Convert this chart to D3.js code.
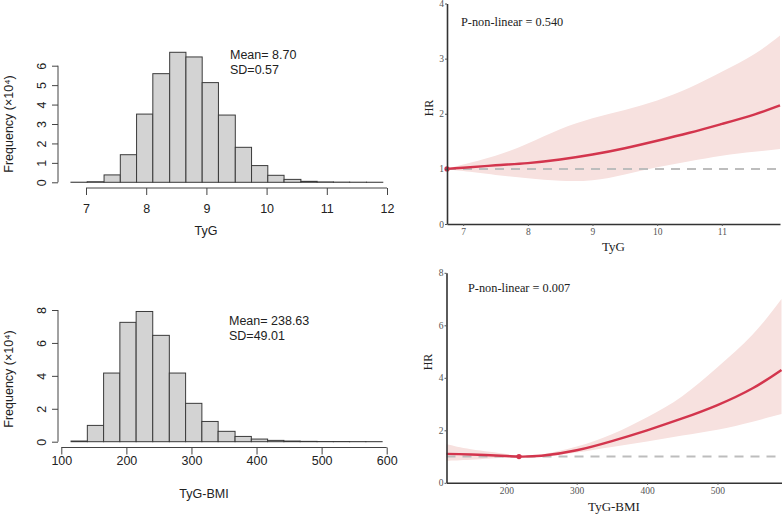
<!DOCTYPE html>
<html>
<head>
<meta charset="utf-8">
<script src="https://cdn.jsdelivr.net/npm/d3@7"></script>
<style>
  html, body { margin: 0; padding: 0; background: #fff; }
  svg { display: block; }
</style>
</head>
<body>
<svg id="chart" width="784" height="515"></svg>
<script>
// ---------- DATA ----------
// Histogram of TyG (frequency ×10^4)
const tygBinEdges = [6.75, 7.02, 7.30, 7.57, 7.84, 8.11, 8.39, 8.66, 8.93, 9.20, 9.48, 9.75, 10.02, 10.29, 10.57, 10.84, 11.11, 11.38, 11.66, 11.93];
const tygCounts = [0.005, 0.03, 0.38, 1.42, 3.51, 5.59, 6.69, 6.45, 5.13, 3.46, 1.80, 0.86, 0.36, 0.15, 0.05, 0.02, 0.01, 0.005, 0.003];
const tygXTicks = [7, 8, 9, 10, 11, 12];
const tygYTicks = [0, 1, 2, 3, 4, 5, 6];
const tygStats = ["Mean= 8.70", "SD=0.57"];

// Histogram of TyG-BMI (frequency ×10^4)
const bmiBinEdges = [115, 140, 165, 190, 215, 240.5, 266, 291, 316, 341, 367, 392, 417, 442, 467, 493, 518, 543, 568, 593];
const bmiCounts = [0.04, 0.99, 4.17, 7.25, 7.91, 6.46, 4.17, 2.33, 1.23, 0.63, 0.32, 0.16, 0.08, 0.04, 0.02, 0.01, 0.01, 0.005, 0.003];
const bmiXTicks = [100, 200, 300, 400, 500, 600];
const bmiYTicks = [0, 2, 4, 6, 8];
const bmiStats = ["Mean= 238.63", "SD=49.01"];

// RCS curve: TyG
const rcsTygX     = [6.75, 7.0, 7.5, 8.0, 8.5, 9.0, 9.5, 10.0, 10.5, 11.0, 11.5, 11.9];
const rcsTygHR    = [1.00, 1.02, 1.065, 1.105, 1.17, 1.26, 1.375, 1.51, 1.655, 1.815, 1.985, 2.15];
const rcsTygLower = [1.00, 0.96, 0.89, 0.83, 0.785, 0.795, 0.90, 1.03, 1.14, 1.24, 1.31, 1.36];
const rcsTygUpper = [1.00, 1.08, 1.24, 1.46, 1.72, 1.92, 2.07, 2.24, 2.47, 2.76, 3.08, 3.42];
const rcsTygXTicks = [7, 8, 9, 10, 11];
const rcsTygYTicks = [0, 1, 2, 3, 4];
const rcsTygRef = 6.75;
const rcsTygP = "P-non-linear = 0.540";

// RCS curve: TyG-BMI
const rcsBmiX     = [115, 150, 200, 218, 250, 300, 350, 400, 450, 500, 550, 591];
const rcsBmiHR    = [1.10, 1.08, 1.02, 1.00, 1.03, 1.24, 1.59, 2.00, 2.45, 2.96, 3.60, 4.30];
const rcsBmiLower = [0.84, 0.88, 0.96, 1.00, 0.99, 1.15, 1.36, 1.57, 1.80, 2.02, 2.33, 2.62];
const rcsBmiUpper = [1.48, 1.28, 1.10, 1.00, 1.08, 1.38, 1.85, 2.50, 3.30, 4.40, 5.65, 7.00];
const rcsBmiXTicks = [200, 300, 400, 500];
const rcsBmiYTicks = [0, 2, 4, 6, 8];
const rcsBmiRef = 218;
const rcsBmiP = "P-non-linear = 0.007";

// ---------- DRAW ----------
const svg = d3.select("#chart");
const sans = "'Liberation Sans', Arial, sans-serif";
const serif = "'Liberation Serif', 'Times New Roman', serif";
const plain = d => String(d);

function histogram(cfg) {
  const x = d3.scaleLinear().domain(cfg.xDomain).range(cfg.xRange);
  const y = d3.scaleLinear().domain(cfg.yDomain).range(cfg.yRange);
  const g = svg.append("g");
  const bins = cfg.counts.map((c, i) => ({ x0: cfg.edges[i], x1: cfg.edges[i + 1], c }));
  g.selectAll("rect.bar").data(bins).enter().append("rect")
    .attr("x", d => x(d.x0))
    .attr("width", d => x(d.x1) - x(d.x0))
    .attr("y", d => y(d.c))
    .attr("height", d => y(0) - y(d.c))
    .attr("fill", "#d3d3d3")
    .attr("stroke", "#3a3a3a")
    .attr("stroke-width", 1);

  // x axis (R style: line between first and last ticks, offset below)
  const xa = g.append("g").attr("transform", `translate(0,${cfg.xAxisY})`)
    .call(d3.axisBottom(x).tickValues(cfg.xTicks).tickFormat(plain).tickSize(7).tickPadding(cfg.xPad).tickSizeOuter(0));
  xa.select(".domain").remove();
  xa.append("line").attr("x1", x(cfg.xTicks[0])).attr("x2", x(cfg.xTicks[cfg.xTicks.length - 1]))
    .attr("stroke", "#444").attr("stroke-width", 1);
  xa.selectAll(".tick line").attr("stroke", "#444");
  xa.selectAll("text").attr("font-family", sans).attr("font-size", 12.5).attr("fill", "#222");

  // y axis
  const ya = g.append("g").attr("transform", `translate(${cfg.yAxisX},0)`)
    .call(d3.axisLeft(y).tickValues(cfg.yTicks).tickFormat(plain).tickSize(6).tickPadding(0).tickSizeOuter(0));
  ya.select(".domain").remove();
  ya.append("line").attr("y1", y(cfg.yTicks[0])).attr("y2", y(cfg.yTicks[cfg.yTicks.length - 1]))
    .attr("stroke", "#444").attr("stroke-width", 1);
  ya.selectAll(".tick line").attr("stroke", "#444");
  ya.selectAll(".tick text")
    .attr("x", null).attr("dy", null)
    .attr("text-anchor", "middle")
    .attr("transform", "translate(-16,0) rotate(-90)")
    .attr("dy", "0.35em")
    .attr("font-family", sans).attr("font-size", 12.5).attr("fill", "#222");

  g.append("text").attr("x", cfg.xTitleX).attr("y", cfg.xTitleY)
    .attr("text-anchor", "middle").attr("font-family", sans).attr("font-size", 12.5).attr("fill", "#222")
    .text(cfg.xTitle);
  g.append("text").attr("transform", `translate(${cfg.yTitleX},${cfg.yTitleY}) rotate(-90)`)
    .attr("text-anchor", "middle").attr("font-family", sans).attr("font-size", 12.5).attr("fill", "#222")
    .text("Frequency (×10⁴)");
  cfg.stats.forEach((s, i) => {
    g.append("text").attr("x", cfg.statsX).attr("y", cfg.statsY + i * 15)
      .attr("font-family", sans).attr("font-size", 12.5).attr("fill", "#222").text(s);
  });
}

histogram({
  edges: tygBinEdges, counts: tygCounts,
  xDomain: [7, 12], xRange: [86, 387],
  yDomain: [0, 6], yRange: [182.3, 65.7],
  xTicks: tygXTicks, yTicks: tygYTicks,
  xAxisY: 188, yAxisX: 58, xPad: 9,
  xTitle: "TyG", xTitleX: 206, xTitleY: 235,
  yTitleX: 13, yTitleY: 124,
  stats: tygStats, statsX: 230, statsY: 59
});

histogram({
  edges: bmiBinEdges, counts: bmiCounts,
  xDomain: [100, 600], xRange: [61.3, 386.7],
  yDomain: [0, 8], yRange: [441.7, 310],
  xTicks: bmiXTicks, yTicks: bmiYTicks,
  xAxisY: 447.5, yAxisX: 58, xPad: 2,
  xTitle: "TyG-BMI", xTitleX: 204, xTitleY: 498,
  yTitleX: 13, yTitleY: 379,
  stats: bmiStats, statsX: 229, statsY: 325
});

function rcs(cfg) {
  const x = d3.scaleLinear().domain(cfg.xDomain).range(cfg.xRange);
  const y = d3.scaleLinear().domain(cfg.yDomain).range(cfg.yRange);
  const g = svg.append("g");
  const pts = cfg.xs.map((v, i) => ({ x: v, hr: cfg.hr[i], lo: cfg.lo[i], hi: cfg.hi[i] }));

  g.append("path").datum(pts)
    .attr("d", d3.area().x(d => x(d.x)).y0(d => y(d.lo)).y1(d => y(d.hi)).curve(d3.curveNatural))
    .attr("fill", "#f7e1df");

  g.append("line")
    .attr("x1", x(cfg.xDomain[0])).attr("x2", x(cfg.xDomain[1]))
    .attr("y1", y(1)).attr("y2", y(1))
    .attr("stroke", "#bdbdbd").attr("stroke-width", 2).attr("stroke-dasharray", "9,7");

  g.append("path").datum(pts)
    .attr("d", d3.line().x(d => x(d.x)).y(d => y(d.hr)).curve(d3.curveNatural))
    .attr("fill", "none").attr("stroke", "#d3354d").attr("stroke-width", 2.4);

  g.append("circle").attr("cx", x(cfg.ref)).attr("cy", y(1)).attr("r", 2.6).attr("fill", "#d3354d");

  const xa = g.append("g").attr("transform", `translate(0,${cfg.yRange[0]})`)
    .call(d3.axisBottom(x).tickValues(cfg.xTicks).tickFormat(plain).tickSize(2).tickPadding(2).tickSizeOuter(0));
  xa.select(".domain").attr("stroke", "#333").attr("stroke-width", 1.6);
  xa.selectAll(".tick line").attr("stroke", "#555");
  xa.selectAll("text").attr("font-family", serif).attr("font-size", 9.5).attr("fill", "#555");

  const ya = g.append("g").attr("transform", `translate(${cfg.xRange[0]},0)`)
    .call(d3.axisLeft(y).tickValues(cfg.yTicks).tickFormat(plain).tickSize(2).tickPadding(1).tickSizeOuter(0));
  ya.select(".domain").attr("stroke", "#333").attr("stroke-width", 1.6);
  ya.selectAll(".tick line").attr("stroke", "#555");
  ya.selectAll("text").attr("font-family", serif).attr("font-size", 9.5).attr("fill", "#555");

  g.append("text").attr("x", (cfg.xRange[0] + cfg.xRange[1]) / 2).attr("y", cfg.xTitleY)
    .attr("text-anchor", "middle").attr("font-family", serif).attr("font-size", 13).attr("fill", "#222")
    .text(cfg.xTitle);
  g.append("text").attr("transform", `translate(${cfg.yTitleX},${cfg.yTitleY}) rotate(-90)`)
    .attr("text-anchor", "middle").attr("font-family", serif).attr("font-size", 12).attr("fill", "#222")
    .text("HR");
  g.append("text").attr("x", cfg.pX).attr("y", cfg.pY)
    .attr("font-family", serif).attr("font-size", 12.3).attr("fill", "#222").text(cfg.pText);
}

rcs({
  xs: rcsTygX, hr: rcsTygHR, lo: rcsTygLower, hi: rcsTygUpper,
  xDomain: [6.75, 11.9], xRange: [447, 780],
  yDomain: [0, 4], yRange: [224, 3.5],
  xTicks: rcsTygXTicks, yTicks: rcsTygYTicks, ref: rcsTygRef,
  xTitle: "TyG", xTitleY: 251, yTitleX: 433, yTitleY: 108,
  pText: rcsTygP, pX: 461, pY: 26
});

rcs({
  xs: rcsBmiX, hr: rcsBmiHR, lo: rcsBmiLower, hi: rcsBmiUpper,
  xDomain: [115, 591], xRange: [446.5, 781.5],
  yDomain: [0, 8], yRange: [482.8, 272.8],
  xTicks: rcsBmiXTicks, yTicks: rcsBmiYTicks, ref: rcsBmiRef,
  xTitle: "TyG-BMI", xTitleY: 511, yTitleX: 432, yTitleY: 362,
  pText: rcsBmiP, pX: 468, pY: 292
});
</script>
</body>
</html>
